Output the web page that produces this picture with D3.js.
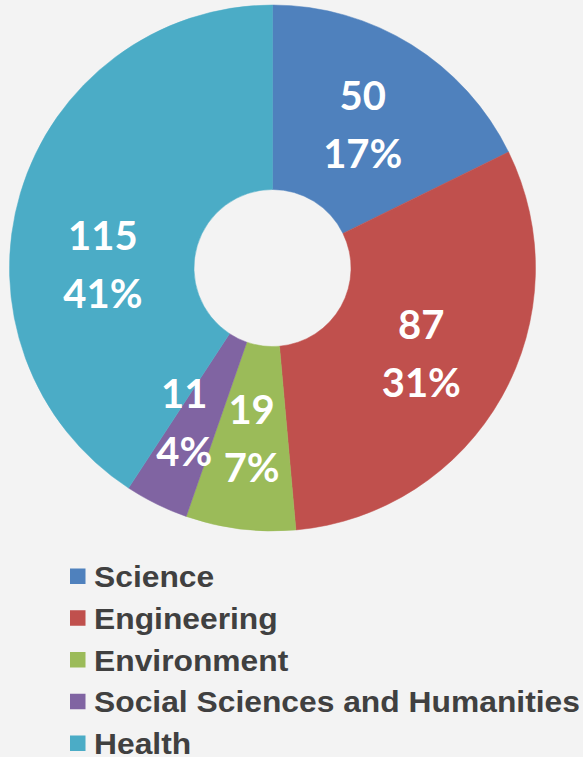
<!DOCTYPE html>
<html>
<head>
<meta charset="utf-8">
<script src="https://cdn.jsdelivr.net/npm/d3@7"></script>
<style>
  html, body { margin: 0; padding: 0; background: #f3f3f3; }
  svg { display: block; }
</style>
</head>
<body>
<div id="chart"></div>
<script>
const categories = ["Science", "Engineering", "Environment", "Social Sciences and Humanities", "Health"];
const counts = [50, 87, 19, 11, 115];
const pctLabels = ["17%", "31%", "7%", "4%", "41%"];
const colors = ["#4f81bd", "#c0504d", "#9bbb59", "#8064a2", "#4bacc6"];

const width = 583, height = 757;
const cx = 272.5, cy = 268;
const outerR = 263, innerR = 78.5;

const svg = d3.select("#chart").append("svg")
    .attr("width", width)
    .attr("height", height);

svg.append("rect")
    .attr("width", width)
    .attr("height", height)
    .attr("fill", "#f3f3f3");

const pie = d3.pie().sort(null).value(d => d.value);
const arcs = pie(categories.map((c, i) => ({ name: c, value: counts[i], pct: pctLabels[i], color: colors[i] })));

const arc = d3.arc().innerRadius(innerR).outerRadius(outerR);

const g = svg.append("g")
    .attr("transform", "translate(" + cx + "," + cy + ")");

g.selectAll("path")
    .data(arcs)
    .join("path")
    .attr("d", arc)
    .attr("fill", d => d.data.color)
    .attr("stroke", d => d.data.color)
    .attr("stroke-width", 0.5);

// labels at the centroid, excel nudges a couple of them
const labels = g.selectAll("g.lbl")
    .data(arcs)
    .join("g")
    .attr("class", "lbl")
    .attr("transform", d => {
        let [x, y] = arc.centroid(d);
        if (d.data.name === "Health") { x = x - 6; y = y + 44; }
        if (d.data.name === "Social Sciences and Humanities") { x = x - 13; }
        return "translate(" + x + "," + (y + 2) + ")";
    });

labels.append("text")
    .attr("text-anchor", "middle")
    .attr("y", -15)
    .attr("fill", "#fff")
    .style("font-family", "Lato, 'Open Sans', sans-serif")
    .style("font-weight", "bold")
    .style("font-size", "40px")
    .text(d => d.data.value);

labels.append("text")
    .attr("text-anchor", "middle")
    .attr("y", 43)
    .attr("fill", "#fff")
    .style("font-family", "Lato, 'Open Sans', sans-serif")
    .style("font-weight", "bold")
    .style("font-size", "40px")
    .text(d => d.data.pct);

// legend
const legendY = d3.scalePoint()
    .domain(categories)
    .range([576, 743]);

const legend = svg.append("g")
    .selectAll("g")
    .data(categories)
    .join("g")
    .attr("transform", d => "translate(70," + legendY(d) + ")");

legend.append("rect")
    .attr("x", 0)
    .attr("y", -7.5)
    .attr("width", 15.5)
    .attr("height", 15.5)
    .attr("fill", (d, i) => colors[i]);

legend.append("text")
    .attr("transform", "translate(24,11) scale(1.06,1)")
    .attr("fill", "#404040")
    .style("font-family", "'Liberation Sans', Arial, sans-serif")
    .style("font-weight", "bold")
    .style("font-size", "30px")
    .text(d => d);
</script>
</body>
</html>
